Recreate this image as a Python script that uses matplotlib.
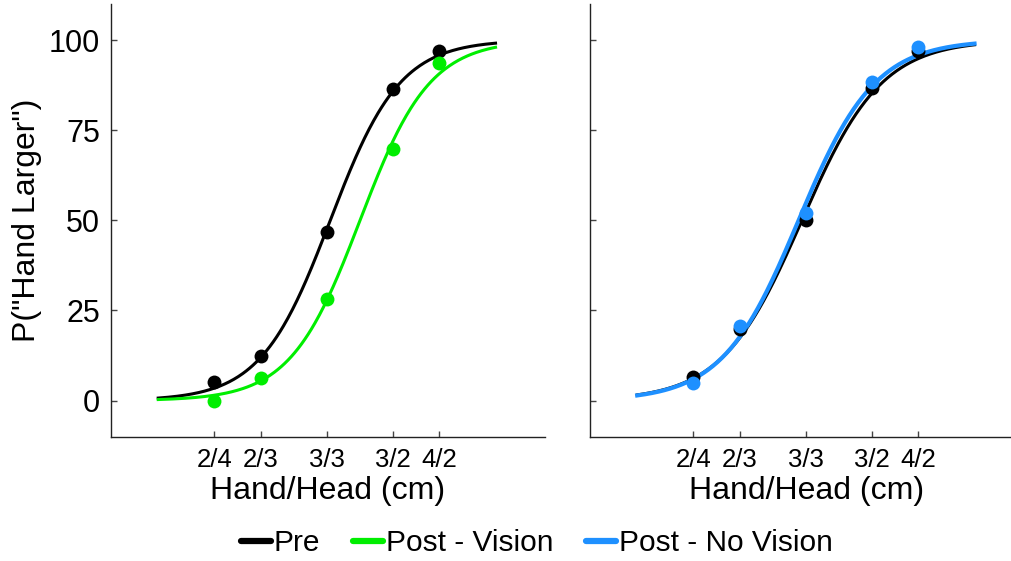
import numpy as np
import matplotlib
matplotlib.use('Agg')
import matplotlib.pyplot as plt
from matplotlib.lines import Line2D

plt.rcParams['font.family'] = ['Liberation Sans', 'DejaVu Sans']

# hand/head size ratios shown on the x axis
tick_labels = ['2/4', '2/3', '3/3', '3/2', '4/2']
ratios = np.array([2/4, 2/3, 3/3, 3/2, 4/2])

# percent "hand larger" responses
left_pre = np.array([5.3, 12.5, 46.9, 86.4, 97.0])
left_vision = np.array([0.0, 6.4, 28.3, 69.8, 93.6])
right_pre = np.array([6.6, 20.0, 50.0, 86.7, 96.9])
right_novision = np.array([5.0, 20.8, 52.0, 88.5, 98.0])

black = '#000000'
green = '#00ee00'
blue = '#1e90ff'


def fit_logistic(x, p):
    # least squares grid search for a logistic psychometric function
    mus = np.linspace(-1, 1, 401)
    ss = np.linspace(0.05, 1.5, 291)
    M, S = np.meshgrid(mus, ss, indexing='ij')
    pred = 100 / (1 + np.exp(-(x[None, None, :] - M[..., None]) / S[..., None]))
    err = ((pred - p) ** 2).sum(-1)
    i, j = np.unravel_index(err.argmin(), err.shape)
    return mus[i], ss[j]


def logistic(x, mu, s):
    return 100 / (1 + np.exp(-(x - mu) / s))


x = np.log2(ratios)
xs = np.linspace(-1.5, 1.5, 300)

fig = plt.figure(figsize=(10.11, 5.61), dpi=100)
W, H = 1011, 561
ax1 = fig.add_axes([111 / W, 1 - 436.7 / H, 434 / W, 432.7 / H])
ax2 = fig.add_axes([590 / W, 1 - 436.7 / H, 434 / W, 432.7 / H])

panels = [
    (ax1, [(left_pre, black, 2.2), (left_vision, green, 2.2)]),
    (ax2, [(right_pre, black, 2.2), (right_novision, blue, 3.0)]),
]

for ax, series in panels:
    for vals, col, lw in series:
        mu, s = fit_logistic(x, vals)
        ax.plot(xs, logistic(xs, mu, s), color=col, lw=lw, zorder=2)
    for vals, col, lw in series:
        ax.plot(x, vals, 'o', color=col, ms=10, mec='none', zorder=3)

    ax.set_xlim(-1.92, 1.94)
    ax.set_ylim(-10, 110)
    ax.set_xticks(x)
    ax.set_xticklabels(tick_labels)
    ax.set_yticks([0, 25, 50, 75, 100])
    for side in ['top', 'right']:
        ax.spines[side].set_visible(False)
    for side in ['left', 'bottom']:
        ax.spines[side].set_linewidth(1.0)
        ax.spines[side].set_color('#222222')
    ax.tick_params(axis='x', direction='in', length=4, width=1, pad=8,
                   labelsize=18.5, color='#444444')
    ax.tick_params(axis='y', direction='in', length=4, width=1, pad=8,
                   labelsize=22, color='#444444')
    ax.set_xlabel('Hand/Head (cm)', fontsize=23)
    ax.xaxis.set_label_coords(0.5, -0.09)

ax1.set_ylabel('P("Hand Larger")', fontsize=23)
ax1.yaxis.set_label_coords(-0.16, 0.5)
ax2.set_yticklabels([])

handles = [Line2D([], [], color=black, lw=4.5, solid_capstyle='round'),
           Line2D([], [], color=green, lw=4.5, solid_capstyle='round'),
           Line2D([], [], color=blue, lw=4.5, solid_capstyle='round')]
fig.legend(handles, ['Pre', 'Post - Vision', 'Post - No Vision'],
           loc='center', bbox_to_anchor=(537 / W, 1 - 543 / H), ncol=3,
           frameon=False, fontsize=21.5, handlelength=1.0, handletextpad=0.1,
           columnspacing=1.1, borderpad=0)

fig.savefig('out.png', dpi=100)
